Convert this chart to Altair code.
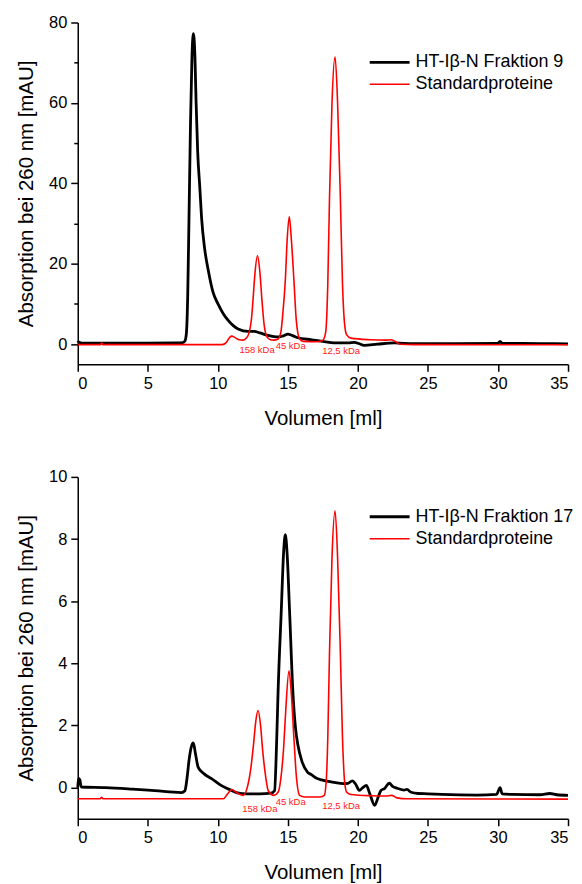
import altair as alt
import pandas as pd

# ---------------- data ----------------
# Top panel: HT-Iβ-N Fraktion 9
top_black_x = [0, 0.05, 0.2, 0.4, 2, 5, 7.0, 7.5, 7.65, 7.75, 7.85, 7.94, 8.05, 8.15, 8.25, 8.35, 8.45,
               8.56, 8.72, 8.84, 9.05, 9.32, 9.65, 10.03, 10.4, 10.74, 11.1, 11.45, 12.16, 12.6, 13.0,
               13.58, 14.3, 14.7, 15.0, 15.3, 15.7, 16.7, 17.6, 18.6, 19.3, 19.75, 20.1, 20.45, 21.4,
               22.6, 24, 27, 30.0, 30.15, 30.3, 33, 35]
top_black_y = [0.4, 0.6, 0.35, 0.25, 0.25, 0.25, 0.3, 0.4, 0.8, 2.5, 12, 31, 55, 71, 77.2, 73, 60,
               48, 38.6, 31.4, 24, 18.3, 13, 9.9, 7.5, 5.9, 4.6, 3.8, 3.2, 3.2, 2.8,
               2.2, 1.8, 2.1, 2.5, 2.2, 1.6, 1.1, 0.65, 0.3, 0.3, 0.45, 0.1, -0.3, 0.0,
               0.3, 0.15, 0.15, 0.2, 0.7, 0.2, 0.15, 0.1]

top_red_x = [0, 1.6, 1.7, 1.8, 10.3, 10.6, 10.85, 11.0, 11.2, 11.5, 11.8, 12.0, 12.2, 12.4, 12.52,
             12.65, 12.83, 13.0, 13.16, 13.3, 13.5, 13.75, 14.0, 14.3, 14.5, 14.65, 14.82, 14.95,
             15.1, 15.25, 15.43, 15.6, 15.84, 16.1, 17.0, 17.5, 17.7, 17.85, 17.97, 18.15, 18.37,
             18.55, 18.75, 18.9, 19.05, 19.2, 19.5, 20.9, 22.0, 22.35, 22.7, 23.0, 24, 35]
top_red_y = [-0.1, -0.1, 0.3, -0.1, -0.1, 0.4, 1.7, 2.0, 1.7, 1.1, 1.0, 1.4, 2.5, 6.2, 11.4,
             17.6, 22, 18, 10.5, 5, 1.9, 1.1, 1.0, 1.3, 3, 8, 16, 26,
             31.7, 26, 16, 6, 1.3, 0.7, 0.6, 1.0, 3, 15, 36, 60, 71.5,
             60, 36, 15, 5, 2.3, 1.5, 1.1, 1.0, 1.1, 0.6, 0.0, -0.1, -0.15]

# Bottom panel: HT-Iβ-N Fraktion 17
bot_black_x = [0, 0.05, 0.15, 0.25, 2, 3.9, 5.5, 7.4, 7.65, 7.8, 7.95, 8.1, 8.25, 8.4, 8.6, 9.0,
               9.55, 10.2, 10.97, 11.5, 12, 13.0, 13.8, 14.05, 14.2, 14.3, 14.53, 14.7, 14.82, 14.95,
               15.12, 15.36, 15.55, 15.72, 16.0, 16.4, 16.67, 17.1, 17.4, 18.2, 19.0, 19.3, 19.6,
               19.85, 20.1, 20.35, 20.6, 20.85, 21.2, 21.45, 21.65, 21.9, 22.24, 22.5, 22.8, 23.3,
               23.5, 23.8, 24.3, 25, 26, 28.5, 29.9, 30.05, 30.15, 30.3, 31, 33.0, 33.7, 34.2, 35]
bot_black_y = [0.0, 0.3, 0.25, 0.02, 0.0, -0.05, -0.1, -0.16, -0.1, 0.3, 0.9, 1.3, 1.44, 1.1, 0.65, 0.45,
               0.29, 0.08, -0.09, -0.18, -0.2, -0.2, -0.18, -0.1, 1.5, 3.07, 5.7, 7.6, 8.14, 7.5,
               5.7, 3.07, 1.9, 1.36, 0.85, 0.5, 0.42, 0.29, 0.25, 0.18, 0.13, 0.14, 0.22,
               0.1, -0.09, 0.0, 0.07, -0.2, -0.57, -0.3, -0.09, -0.03, 0.14, 0.03, -0.02, -0.08,
               -0.06, -0.15, -0.19, -0.2, -0.22, -0.24, -0.22, -0.08, 0.0, -0.2, -0.22, -0.23, -0.19, -0.23, -0.25]

bot_red_x = [0, 1.6, 1.7, 1.8, 10.4, 10.7, 11.0, 11.3, 11.8, 12.1, 12.35, 12.55, 12.7, 12.87, 13.05,
             13.2, 13.4, 13.6, 14.0, 14.3, 14.5, 14.7, 14.85, 15.08, 15.25, 15.43, 15.6, 15.84, 16.2,
             17.3, 17.6, 17.75, 17.85, 17.97, 18.15, 18.37, 18.55, 18.75, 18.9, 19.05, 19.2, 19.5,
             21.0, 22.0, 22.4, 22.8, 23.5, 35]
bot_red_y = [-0.36, -0.36, -0.31, -0.36, -0.36, -0.2, -0.06, -0.15, -0.25, 0.0, 0.6, 1.4, 2.1, 2.48, 2.0,
             1.2, 0.4, -0.1, -0.25, -0.15, 0.3, 1.3, 2.5, 3.76, 3.0, 1.6, 0.4, -0.25, -0.3,
             -0.3, -0.25, 0.3, 1.6, 4.3, 7.4, 8.91, 7.4, 4.3, 1.6, 0.2, -0.15, -0.22,
             -0.26, -0.27, -0.25, -0.33, -0.36, -0.37]

ann_labels = ["158 kDa", "45 kDa", "12,5 kDa"]
top_ann_x = [12.8, 15.2, 18.8]
top_ann_y = [-1.5, -0.5, -1.7]
bot_ann_x = [13.0, 15.2, 18.8]
bot_ann_y = [-0.7, -0.45, -0.58]

x_ticks = [i * 2.5 for i in range(15)]
top_y_ticks = list(range(0, 81, 10))
bot_y_ticks = list(range(0, 11, 1))

STD = "Standardproteine"
FONT = "Liberation Sans"
W, H = 492, 343


def legend():
    return alt.Legend(title=None, orient="none", legendX=304, legendY=31,
                      symbolType="M-4,0H4", symbolSize=100, rowPadding=4,
                      labelFontSize=18, labelFont=FONT, labelOffset=17,
                      labelColor="#000000", padding=0)


def panel(bx, by, rx, ry, black_label, ydom, yticks, ymajor, ax, ay):
    df_b = pd.DataFrame({"x": bx, "y": by, "s": black_label})
    df_r = pd.DataFrame({"x": rx, "y": ry, "s": STD})
    df_a = pd.DataFrame({"x": ax, "y": ay, "t": ann_labels})

    xenc = alt.X("x:Q", scale=alt.Scale(domain=[0, 35], nice=False, zero=False),
                 axis=alt.Axis(values=x_ticks, title="Volumen [ml]", titlePadding=17,
                               labelExpr="datum.value % 5 === 0 ? datum.label : ''",
                               tickSize={"condition": {"test": "datum.value % 5 === 0", "value": 7}, "value": 4}))
    yenc = alt.Y("y:Q", scale=alt.Scale(domain=ydom, nice=False, zero=False),
                 axis=alt.Axis(values=yticks, title="Absorption bei 260 nm [mAU]",
                               labelExpr=f"datum.value % {ymajor} === 0 ? datum.label : ''",
                               tickSize={"condition": {"test": f"datum.value % {ymajor} === 0", "value": 7}, "value": 4}))
    dom = [black_label, STD]
    color = alt.Color("s:N", scale=alt.Scale(domain=dom, range=["#000000", "#ff0000"]), legend=legend())
    sw = alt.StrokeWidth("s:N", scale=alt.Scale(domain=dom, range=[2.8, 1.6]), legend=legend())
    lb = alt.Chart(df_b).mark_line(interpolate="monotone").encode(x=xenc, y=yenc, color=color, strokeWidth=sw, order="x:Q")
    lr = alt.Chart(df_r).mark_line(interpolate="monotone").encode(x=xenc, y=yenc, color=color, strokeWidth=sw, order="x:Q")
    txt = alt.Chart(df_a).mark_text(color="#ff2020", fontSize=9.5, font=FONT).encode(x="x:Q", y="y:Q", text="t:N")
    return alt.layer(lb, lr, txt).properties(width=W, height=H)


top = panel(top_black_x, top_black_y, top_red_x, top_red_y, "HT-Iβ-N Fraktion 9",
            [-5, 80], top_y_ticks, 20, top_ann_x, top_ann_y)
bot = panel(bot_black_x, bot_black_y, bot_red_x, bot_red_y, "HT-Iβ-N Fraktion 17",
            [-1, 10], bot_y_ticks, 2, bot_ann_x, bot_ann_y)

chart = alt.vconcat(top, bot, spacing=40).resolve_scale(
    color="independent", strokeWidth="independent"
).properties(
    padding={"left": 8, "top": 5, "right": 0, "bottom": 0}
).configure(font=FONT).configure_view(stroke=None).configure_axis(
    grid=False, domainColor="#000000", domainWidth=1.5, tickColor="#000000", tickWidth=1.5,
    labelColor="#000000", titleColor="#000000", labelFontSize=16.5, titleFontSize=20.5,
    titleFontWeight="normal", labelFont=FONT, titleFont=FONT, labelPadding=4, titlePadding=12
)

chart.save("out.html", embed_options={"renderer": "svg", "actions": False})
